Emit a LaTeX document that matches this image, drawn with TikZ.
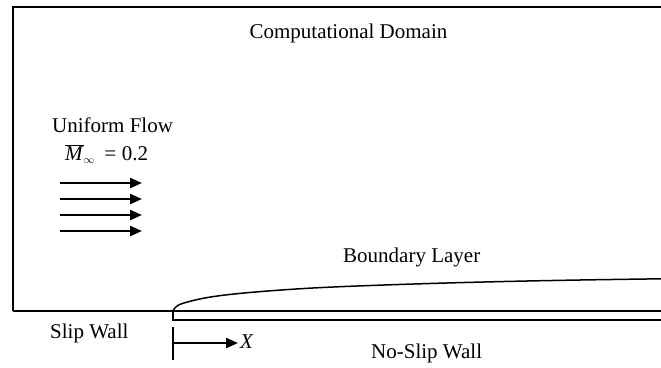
\documentclass[tikz,border=0pt]{standalone}
\usepackage{fontspec}
\setmainfont{Liberation Serif}
\usetikzlibrary{arrows.meta}
\tikzset{
  lbl/.style={inner sep=0pt, anchor=base west, font=\fontsize{21}{24}\selectfont},
  wall/.style={line width=1.5pt},
  flowarrow/.style={line width=2.3pt, -{Triangle[length=12pt,width=10pt]}},
}
\begin{document}
\begin{tikzpicture}[x=1pt,y=-1pt]
\useasboundingbox (0,0) rectangle (661,367);
% computational domain
\coordinate (tl) at (13,7);
\coordinate (tr) at (661,7);
\coordinate (bl) at (13,311);
\coordinate (le) at (173,311);
\coordinate (re) at (661,311);
\coordinate (lb) at (173,320);
\coordinate (rb) at (661,320);
\draw[line width=2pt] (bl) -- (tl) -- (tr);
\draw[wall] (bl) -- (le) -- (re);
\draw[wall] (le) -- (lb) -- (rb);
% boundary layer
\draw[line width=1.5pt] plot[smooth, tension=0.6] coordinates {(173,311) (175.5,307.3) (183,303.3) (207,297.6) (240,293.4) (290,289.4) (340,286.7) (420,283.8) (500,281.6) (580,280) (661,278.8)};
% flow arrows
\foreach \i/\yy in {1/183,2/199,3/215,4/231}{
  \coordinate (fa\i) at (60,\yy);
  \coordinate (fb\i) at (142,\yy);
  \draw[flowarrow] (fa\i) -- (fb\i);
}
% x axis
\coordinate (t1) at (173,327);
\coordinate (t2) at (173,360);
\coordinate (x0) at (173,343);
\coordinate (x1) at (238,343);
\draw[line width=1.5pt] (t1) -- (t2);
\draw[flowarrow] (x0) -- (x1);
% labels
\node[lbl, anchor=base] (cd) at (348.5,38) {Computational Domain};
\node[lbl] (uf) at (52,132) {Uniform Flow};
\node[lbl] (mach) at (65,160) {$\overline{\mbox{\textit{M}}}_{\scriptscriptstyle\infty}\,\mathrel{\mbox{=}}\mbox{0.2}$};
\node[lbl] (bly) at (343,262) {Boundary Layer};
\node[lbl] (sw) at (50,338) {Slip Wall};
\node[lbl] (nsw) at (371,358) {No-Slip Wall};
\node[lbl] (xl) at (240,348) {\textit{X}};
\end{tikzpicture}
\end{document}
